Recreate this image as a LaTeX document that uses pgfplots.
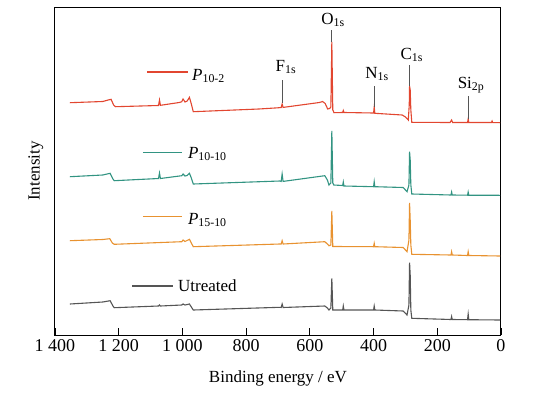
\documentclass[border=0pt]{standalone}
\usepackage{pgfplots}
\pgfplotsset{compat=1.18}
\usepackage{fontspec}
\setmainfont{Liberation Serif}
\definecolor{cred}{RGB}{226,70,48}
\definecolor{cteal}{RGB}{50,148,130}
\definecolor{corange}{RGB}{232,146,48}
\definecolor{cgray}{RGB}{85,85,85}
\newcommand{\lab}[2]{#1\textsubscript{#2}}
\begin{document}
\begin{tikzpicture}
\begin{axis}[
  scale only axis, width=446pt, height=328pt,
  xmin=0, xmax=1400, ymin=0, ymax=328, x dir=reverse,
  xtick={0,200,...,1400}, ytick=\empty,
  xtick pos=left, tick align=inside, major tick length=7pt,
  axis line style={line width=1pt},
  every tick/.style={line width=0.9pt, black},
  xticklabel style={/pgf/number format/1000 sep={\ }, /pgf/number format/assume math mode=true, font=\fontsize{18}{18}\selectfont, yshift=-1pt},
  xlabel={Binding energy / eV},
  ylabel={Intensity},
  xlabel style={at={(axis description cs:0.5,-0.131)}, anchor=center, font=\fontsize{17}{17}\selectfont},
  ylabel style={at={(axis description cs:-0.043,0.5)}, anchor=center, font=\fontsize{17}{17}\selectfont},
  clip=false,
]
% P10-2 (red)
\addplot[cred, line width=1.1pt] coordinates {(1353,232.3)(1250,233.5)(1233,235)(1224,235.7)(1216,230)(1210,228.3)(1075,229.5)(1072,235)(1069,229.7)(1010,232.5)(1002,233.3)(998,236)(992,233)(985,234)(978,237.7)(972,231)(966,223.3)(760,226)(700,227.2)(690,227.5)(687,231)(684,227.6)(570,232.5)(560,233.5)(552,231.5)(544,226)(538,226.5)(534,228)(531,293)(528,225)(524,222.3)(497,222.5)(495,224.5)(493,222.5)(400,222)(398,228)(396,221.7)(310,220)(300,218)(291,215)(288,230)(287,249)(285,245)(283,225)(280,212.7)(160,212.5)(155,215)(152,212.5)(105,212.5)(103,216)(101,212.5)(30,212.5)(28,214)(26,212.4)(3,212.3)};
% P10-10 (teal)
\addplot[cteal, line width=1.1pt] coordinates {(1353,158.3)(1250,160)(1227,161.7)(1218,156)(1214,154.3)(1075,156.5)(1072,162)(1069,156.5)(1002,159.3)(998,161)(992,159)(985,159.5)(978,161.7)(972,157)(966,151)(694,154)(690,153.6)(687,161)(684,153.6)(553,159.3)(545,155)(540,150)(534,152)(531,204)(528,152)(525,150)(497,149.5)(495,153)(493,149)(400,148.3)(398,153.3)(396,148.3)(307,147.5)(295,143.3)(289,150)(287,183.3)(285,175)(283,150)(280,141)(157,140)(155,143)(153,140)(105,139.8)(103,143)(101,139.8)(3,139.7)};
% P15-10 (orange)
\addplot[corange, line width=1.1pt] coordinates {(1353,94.3)(1250,95.5)(1228,96.3)(1220,92)(1214,90.7)(1002,93.3)(998,95)(992,93.5)(978,95.7)(972,92)(966,88.3)(694,91)(690,91)(687,94.3)(684,91)(553,93.3)(545,91)(540,89.3)(534,90)(531,124)(528,88.5)(400,88.3)(398,91.7)(396,88.3)(307,87.5)(295,83.3)(289,95)(287,132)(285,115)(283,90)(280,80.7)(157,80)(155,83.3)(153,80)(105,79.5)(103,83.3)(101,79.5)(3,79)};
% Untreated (gray)
\addplot[cgray, line width=1.1pt] coordinates {(1353,31)(1250,33)(1227,34.3)(1218,29)(1214,27.3)(1075,29)(1072,30)(1069,29)(1002,30)(998,31)(992,30)(978,31)(972,28)(966,25)(694,27.7)(690,27.5)(687,31)(684,27.5)(553,29)(545,27)(540,25)(534,27)(531,56.7)(528,25)(497,25)(495,29)(493,25)(400,25)(398,29)(396,25)(307,24)(295,20)(289,30)(287,72.3)(285,60)(283,25)(280,16.7)(157,15.5)(155,18.5)(153,15.5)(105,15.3)(103,21)(101,15.3)(3,15)};
% peak markers
\draw[cgray, line width=0.8pt] (axis cs:531,293) -- (axis cs:531,305);
\draw[cgray, line width=0.8pt] (axis cs:687,232) -- (axis cs:687,255);
\draw[cgray, line width=0.8pt] (axis cs:398,228) -- (axis cs:398,249);
\draw[cgray, line width=0.8pt] (axis cs:287,249) -- (axis cs:287,270);
\draw[cgray, line width=0.8pt] (axis cs:103,216) -- (axis cs:103,239);
\begin{scope}[every node/.style={font=\fontsize{17}{17}\selectfont, inner sep=0pt}]
\node at (axis cs:527,315) {\lab{O}{1s}};
\node at (axis cs:675,268) {\lab{F}{1s}};
\node at (axis cs:389,261) {\lab{N}{1s}};
\node at (axis cs:280,280) {\lab{C}{1s}};
\node at (axis cs:94,250) {\lab{Si}{2p}};
% series labels
\draw[cred, line width=1.2pt] (axis cs:1111,263) -- (axis cs:983,263);
\node[anchor=base west] at (axis cs:970,255) {\textit{P}\textsubscript{10-2}};
\draw[cteal, line width=1.2pt] (axis cs:1124,182.3) -- (axis cs:1001,182.3);
\node[anchor=base west] at (axis cs:983,176.7) {\textit{P}\textsubscript{10-10}};
\draw[corange, line width=1.2pt] (axis cs:1124,118.3) -- (axis cs:1001,118.3);
\node[anchor=base west] at (axis cs:983,111) {\textit{P}\textsubscript{15-10}};
\draw[cgray, line width=1.2pt] (axis cs:1158,49) -- (axis cs:1030,49);
\node[anchor=base west] at (axis cs:1014,44) {Utreated};
\end{scope}
\end{axis}
\path ([xshift=-55pt,yshift=-57pt]current axis.south west) rectangle ([xshift=40pt,yshift=7pt]current axis.north east);
\end{tikzpicture}
\end{document}
